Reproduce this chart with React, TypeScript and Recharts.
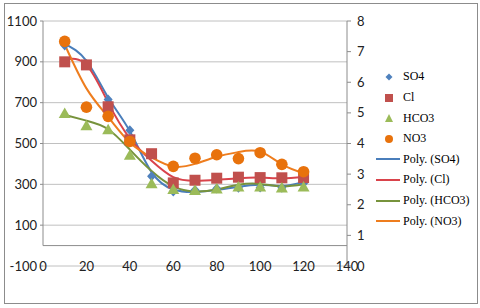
import React from 'react';
import { ComposedChart, Scatter, Line, XAxis, YAxis, CartesianGrid, ReferenceLine } from 'recharts';

const depth = [10, 20, 30, 40, 50, 60, 70, 80, 90, 100, 110, 120];
const so4 = [980, 890, 715, 565, 340, 265, 272, 280, 283, 285, 283, 305];
const cl = [900, 885, 680, 518, 450, 307, 320, 330, 335, 333, 332, 333];
const hco3 = [650, 590, 570, 445, 305, 277, 272, 280, 290, 290, 285, 290];
const no3: (number | null)[] = [1000, 678, 633, 510, null, 388, 428, 445, 426, 455, 398, 362];

const polySO4 = [988, 905, 725, 560, 360, 275, 263, 272, 288, 298, 292, 312];
const polyCl = [912, 885, 700, 525, 415, 335, 317, 322, 330, 333, 330, 336];
const polyHCO3 = [640, 612, 570, 470, 365, 290, 265, 275, 298, 302, 290, 300];
const polyNO3 = [985, 770, 630, 505, 432, 387, 400, 435, 458, 460, 398, 355];

const xTicks = [0, 20, 40, 60, 80, 100, 120, 140];
const leftTicks = [-100, 100, 300, 500, 700, 900, 1100];
const rightTicks = [0, 1, 2, 3, 4, 5, 6, 7, 8];

const legendItems = [
  { label: 'SO4', kind: 'diamond', color: '#4F81BD' },
  { label: 'Cl', kind: 'square', color: '#C0504D' },
  { label: 'HCO3', kind: 'triangle', color: '#9BBB59' },
  { label: 'NO3', kind: 'circle', color: '#E8720C' },
  { label: 'Poly. (SO4)', kind: 'line', color: '#4A7EBB' },
  { label: 'Poly. (Cl)', kind: 'line', color: '#D9434B' },
  { label: 'Poly. (HCO3)', kind: 'line', color: '#77933C' },
  { label: 'Poly. (NO3)', kind: 'line', color: '#EE7D1E' },
];

const rows = depth.map((x, i) => ({
  x,
  so4: so4[i],
  cl: cl[i],
  hco3: hco3[i],
  no3: no3[i],
  pSO4: polySO4[i],
  pCl: polyCl[i],
  pHCO3: polyHCO3[i],
  pNO3: polyNO3[i],
}));

const makeShape = (kind: string, color: string, key: string) => (p: any) => {
  if (!p || p.cx == null || p.cy == null || isNaN(p.cx) || isNaN(p.cy) || (p.payload && p.payload[key] == null)) return <g />;
  const { cx, cy } = p;
  if (kind === 'diamond') return <path d={`M${cx},${cy - 5}L${cx + 4.5},${cy}L${cx},${cy + 5}L${cx - 4.5},${cy}Z`} fill={color} />;
  if (kind === 'square') return <rect x={cx - 5.5} y={cy - 5.5} width={11} height={11} fill={color} />;
  if (kind === 'triangle') return <path d={`M${cx},${cy - 5.5}L${cx + 6},${cy + 5}L${cx - 6},${cy + 5}Z`} fill={color} />;
  return <circle cx={cx} cy={cy} r={5.8} fill={color} />;
};

const XTick = (p: any) => (
  <text x={p.x} y={p.y} dy="0.35em" textAnchor="middle" fontFamily="Lato" fontSize={13} fill="#222">
    {p.payload.value}
  </text>
);

const LegendBox = () => (
  <div style={{ position: 'absolute', left: 372, top: 66.7, width: 104, fontFamily: '"Liberation Serif", serif', fontSize: 12, color: '#000' }}>
    {legendItems.map((it) => (
      <div key={it.label} style={{ height: 20.6, display: 'flex', alignItems: 'center' }}>
        <svg width={30} height={20} style={{ display: 'block' }}>
          {it.kind === 'line' && <line x1={4} x2={28} y1={10} y2={10} stroke={it.color} strokeWidth={2} />}
          {it.kind === 'diamond' && <path d="M17,6.5L20.5,10L17,13.5L13.5,10Z" fill={it.color} />}
          {it.kind === 'square' && <rect x={13} y={6} width={8} height={8} fill={it.color} />}
          {it.kind === 'triangle' && <path d="M17,6L21,14L13,14Z" fill={it.color} />}
          {it.kind === 'circle' && <circle cx={17} cy={10} r={4} fill={it.color} />}
        </svg>
        <span style={{ marginLeft: 1, whiteSpace: 'nowrap' }}>{it.label}</span>
      </div>
    ))}
  </div>
);

export default function App() {
  return (
    <div style={{ position: 'absolute', left: 0, top: 0, width: 480, height: 308, background: '#fff' }}>
      <div style={{ position: 'absolute', left: 4, top: 3, width: 472, height: 299, border: '1px solid #8c8c8c' }} />
      <ComposedChart width={480} height={308} data={rows} margin={{ top: 21, right: 108, bottom: 22, left: 0 }}>
        <CartesianGrid vertical={false} stroke="#c0c0c0" />
        <XAxis
          type="number"
          dataKey="x"
          domain={[0, 140]}
          ticks={xTicks}
          interval={0}
          axisLine={false}
          tickLine={false}
          tickSize={0}
          tickMargin={0}
          height={20}
          tick={<XTick />}
        />
        <YAxis
          type="number"
          domain={[-100, 1100]}
          ticks={leftTicks}
          interval={0}
          width={43}
          axisLine={false}
          tickLine={{ stroke: '#8c8c8c' }}
          tickSize={3}
          tickMargin={3}
          tick={{ fontFamily: 'Lato', fontSize: 13, fill: '#222' }}
        />
        <YAxis
          yAxisId="r"
          orientation="right"
          type="number"
          domain={[0, 8]}
          allowDataOverflow
          ticks={rightTicks}
          interval={0}
          width={25}
          axisLine={{ stroke: '#8c8c8c' }}
          tickLine={{ stroke: '#8c8c8c' }}
          tickSize={4}
          tickMargin={6}
          tick={{ fontFamily: 'Lato', fontSize: 13, fill: '#222', textAnchor: 'start' }}
        />
        <ReferenceLine y={0} stroke="#8c8c8c" />
        <ReferenceLine segment={[{ x: 0, y: 0 }, { x: 0, y: 1100 }]} stroke="#8c8c8c" />
        <Line yAxisId="r" dataKey="rightAxisNone" stroke="none" dot={false} activeDot={false} legendType="none" isAnimationActive={false} />
        <Scatter dataKey="so4" isAnimationActive={false} shape={makeShape('diamond', '#4F81BD', 'so4')} />
        <Scatter dataKey="cl" isAnimationActive={false} shape={makeShape('square', '#C0504D', 'cl')} />
        <Scatter dataKey="hco3" isAnimationActive={false} shape={makeShape('triangle', '#9BBB59', 'hco3')} />
        <Scatter dataKey="no3" isAnimationActive={false} shape={makeShape('circle', '#E8720C', 'no3')} />
        <Line dataKey="pSO4" type="natural" stroke="#4A7EBB" strokeWidth={2} dot={false} activeDot={false} isAnimationActive={false} />
        <Line dataKey="pCl" type="natural" stroke="#D9434B" strokeWidth={2} dot={false} activeDot={false} isAnimationActive={false} />
        <Line dataKey="pHCO3" type="natural" stroke="#77933C" strokeWidth={2} dot={false} activeDot={false} isAnimationActive={false} />
        <Line dataKey="pNO3" type="natural" stroke="#EE7D1E" strokeWidth={2} dot={false} activeDot={false} isAnimationActive={false} />
      </ComposedChart>
      <LegendBox />
    </div>
  );
}
